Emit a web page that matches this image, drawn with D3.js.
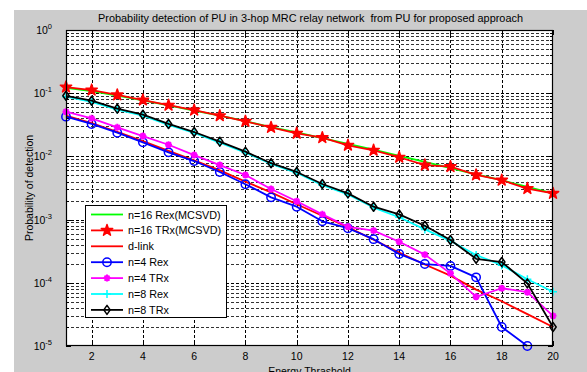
<!DOCTYPE html>
<meta charset="utf-8">
<style>
body { margin: 0; background: #fff; }
text { font-family: "Liberation Sans", Arial, sans-serif; fill: #000; }
.grid line { stroke: #000; stroke-width: 1; stroke-dasharray: 3,2; }
.grid line.minor { stroke: #333; }
</style>
<svg width="587" height="372"></svg>
<script src="https://cdn.jsdelivr.net/npm/d3@7"></script>
<script>

// energy threshold 1..20
var thresholds = [1,2,3,4,5,6,7,8,9,10,11,12,13,14,15,16,17,18,19,20];

var rex16 = [0.122,0.108,0.092,0.077,0.064,0.053,0.044,0.036,0.029,0.024,0.0195,0.0158,0.0128,0.0102,0.0082,0.0065,0.0052,0.0042,0.0033,0.0026];
var trx16 = [0.125,0.112,0.094,0.078,0.0645,0.054,0.044,0.0359,0.0288,0.0232,0.0198,0.015,0.0125,0.0097,0.0073,0.0069,0.0051,0.0042,0.0031,0.0026];
var dlink = [0.044,0.0335,0.0245,0.0175,0.0122,0.0087,0.0060,0.0040,0.0027,0.00175,0.00115,0.00076,0.00048,0.00030,0.000195,0.00013,0.000078,0.000051,0.000032,0.000020];
var rex4 = [0.0425,0.0326,0.0237,0.0167,0.0116,0.00845,0.00567,0.00363,0.00225,0.0016,0.00094,0.00073,0.00049,0.000286,0.000198,0.000185,0.000122,0.00002,0.00001,null];
var trx4 = [0.051,0.040,0.0288,0.021,0.0153,0.0105,0.0073,0.00508,0.00305,0.00195,0.00121,0.00077,0.00067,0.000447,0.000279,0.000141,0.00006,0.000082,0.000071,0.00003];
var rex8 = [0.088,0.073,0.055,0.044,0.0315,0.0235,0.0165,0.0115,0.0076,0.0055,0.0035,0.0025,0.00155,0.00109,0.0007,0.00046,0.000275,0.00019,0.000114,0.000072];
var trx8 = [0.091,0.076,0.057,0.0457,0.0326,0.0243,0.0171,0.0119,0.0078,0.00567,0.00366,0.0026,0.0016,0.00121,0.0008,0.000475,0.00024,0.000213,0.000098,0.00002];

var xTicks = [2,4,6,8,10,12,14,16,18,20];
var yDecades = [0,-1,-2,-3,-4,-5];

var series = [
  {name: "n=16 Rex(MCSVD)", values: rex16, color: "#00ff00", marker: null},
  {name: "n=16 TRx(MCSVD)", values: trx16, color: "#ff0000", marker: "star"},
  {name: "d-link", values: dlink, color: "#ff0000", marker: null},
  {name: "n=4 Rex", values: rex4, color: "#0000ff", marker: "circle"},
  {name: "n=4 TRx", values: trx4, color: "#ff00ff", marker: "asterisk"},
  {name: "n=8 Rex", values: rex8, color: "#00ffff", marker: "plus"},
  {name: "n=8 TRx", values: trx8, color: "#000000", marker: "diamond"}
];

var svg = d3.select("svg"),
    margin = {top: 30, right: 34, bottom: 26, left: 66},
    width = +svg.attr("width") - margin.left - margin.right,
    height = +svg.attr("height") - margin.top - margin.bottom;

// figure background
svg.append("rect")
    .attr("x", 14).attr("y", 10)
    .attr("width", 587 - 14).attr("height", 372 - 10)
    .attr("fill", "#cccccc");

var g = svg.append("g").attr("transform", "translate(" + margin.left + "," + margin.top + ")");

var x = d3.scaleLinear().domain([1, 20]).range([0, width]);
var y = d3.scaleLog().domain([1e-5, 1]).range([height, 0]);

g.append("rect").attr("width", width).attr("height", height).attr("fill", "#fff");

// grid
var minors = [];
for (var e = -5; e < 0; e++) {
  for (var k = 2; k <= 9; k++) minors.push(k * Math.pow(10, e));
}
var grid = g.append("g").attr("class", "grid");
grid.selectAll(".vx").data(xTicks.slice(0, -1)).enter().append("line")
    .attr("x1", function(d) { return Math.round(x(d)) + 0.5; })
    .attr("x2", function(d) { return Math.round(x(d)) + 0.5; })
    .attr("y1", 0).attr("y2", height);
grid.selectAll(".hy").data(yDecades.slice(1, -1)).enter().append("line")
    .attr("y1", function(d) { return Math.round(y(Math.pow(10, d))) + 0.5; })
    .attr("y2", function(d) { return Math.round(y(Math.pow(10, d))) + 0.5; })
    .attr("x1", 0).attr("x2", width);
grid.selectAll(".hm").data(minors).enter().append("line")
    .attr("class", "minor")
    .attr("y1", function(d) { return Math.round(y(d)) + 0.5; })
    .attr("y2", function(d) { return Math.round(y(d)) + 0.5; })
    .attr("x1", 0).attr("x2", width);

// ticks inside, on all four sides
var ticks = g.append("g").attr("stroke", "#000").attr("stroke-width", 1);
xTicks.forEach(function(d) {
  var px = Math.round(x(d)) + 0.5;
  ticks.append("line").attr("x1", px).attr("x2", px).attr("y1", height).attr("y2", height - 5);
  ticks.append("line").attr("x1", px).attr("x2", px).attr("y1", 0).attr("y2", 5);
});
yDecades.forEach(function(d) {
  var py = Math.round(y(Math.pow(10, d))) + 0.5;
  ticks.append("line").attr("x1", 0).attr("x2", 5).attr("y1", py).attr("y2", py);
  ticks.append("line").attr("x1", width).attr("x2", width - 5).attr("y1", py).attr("y2", py);
});
minors.forEach(function(d) {
  var py = Math.round(y(d)) + 0.5;
  ticks.append("line").attr("x1", 0).attr("x2", 3).attr("y1", py).attr("y2", py);
  ticks.append("line").attr("x1", width).attr("x2", width - 3).attr("y1", py).attr("y2", py);
});

// tick labels
g.selectAll(".xl").data(xTicks).enter().append("text")
    .attr("x", function(d) { return x(d); })
    .attr("y", height + 14)
    .attr("text-anchor", "middle")
    .style("font-size", "10.5px")
    .text(function(d) { return d; });

var yl = g.selectAll(".yl").data(yDecades).enter().append("text")
    .attr("x", -14)
    .attr("y", function(d) { return y(Math.pow(10, d)) + 4; })
    .attr("text-anchor", "end")
    .style("font-size", "10.5px");
yl.append("tspan").text("10");
yl.append("tspan").attr("dy", -5).style("font-size", "7.5px").text(function(d) { return d; });

// curves
var line = d3.line()
    .defined(function(d) { return d[1] != null; })
    .x(function(d) { return x(d[0]); })
    .y(function(d) { return y(d[1]); });

function markerPath(type) {
  if (type == "star") return d3.symbol().type(d3.symbolStar).size(40)();
  if (type == "circle") return d3.symbol().type(d3.symbolCircle).size(55)();
  if (type == "diamond") return "M0,-4.5L3.2,0L0,4.5L-3.2,0Z";
  if (type == "plus") return "M-4,0L4,0M0,-4L0,4";
  if (type == "asterisk") return "M-3.5,0L3.5,0M0,-3.5L0,3.5M-2.5,-2.5L2.5,2.5M-2.5,2.5L2.5,-2.5";
  return null;
}

function drawMarker(sel, s) {
  sel.attr("d", markerPath(s.marker))
     .attr("stroke", s.color)
     .attr("stroke-width", s.marker == "asterisk" ? 2 : 1.5)
     .attr("stroke-linejoin", "round")
     .attr("fill", s.marker == "star" ? s.color : "none");
}

series.forEach(function(s) {
  var pts = thresholds.map(function(t, i) { return [t, s.values[i]]; });
  g.append("path").datum(pts)
      .attr("fill", "none")
      .attr("stroke", s.color)
      .attr("stroke-width", 1.8)
      .attr("stroke-linejoin", "round")
      .attr("d", line);
  if (s.marker) {
    g.selectAll(null).data(pts.filter(function(d) { return d[1] != null; })).enter().append("path")
        .attr("transform", function(d) { return "translate(" + x(d[0]) + "," + y(d[1]) + ")"; })
        .call(drawMarker, s);
  }
});

// box
g.append("rect").attr("x", 0.5).attr("y", 0.5).attr("width", width - 1).attr("height", height - 1)
    .attr("fill", "none").attr("stroke", "#000").attr("stroke-width", 1.2);

// legend
var lg = svg.append("g").attr("transform", "translate(85,205)");
lg.append("rect").attr("x", 0.5).attr("y", 0.5).attr("width", 141).attr("height", 112)
    .attr("fill", "#fff").attr("stroke", "#000").attr("stroke-width", 1);
series.forEach(function(s, i) {
  var ry = 9.5 + i * 15.9;
  lg.append("line").attr("x1", 6).attr("x2", 38).attr("y1", ry).attr("y2", ry)
      .attr("stroke", s.color).attr("stroke-width", 1.8);
  if (s.marker) {
    lg.append("path").attr("transform", "translate(22," + ry + ")").call(drawMarker, s);
  }
  lg.append("text").attr("x", 43).attr("y", ry + 4)
      .style("font-size", "10.8px")
      .text(s.name);
});

// labels
svg.append("text")
    .attr("x", margin.left + width / 2 + 1).attr("y", 22)
    .attr("text-anchor", "middle")
    .style("font-size", "10.9px")
    .style("white-space", "pre")
    .text("Probability detection of PU in 3-hop MRC relay network  from PU for proposed approach");

svg.append("text")
    .attr("x", margin.left + width / 2).attr("y", 375)
    .attr("text-anchor", "middle")
    .style("font-size", "10.5px")
    .text("Energy Thrashold");

svg.append("text")
    .attr("transform", "translate(33," + (margin.top + height / 2) + ") rotate(-90)")
    .attr("text-anchor", "middle")
    .style("font-size", "10.5px")
    .text("Probability of detection");

</script>
